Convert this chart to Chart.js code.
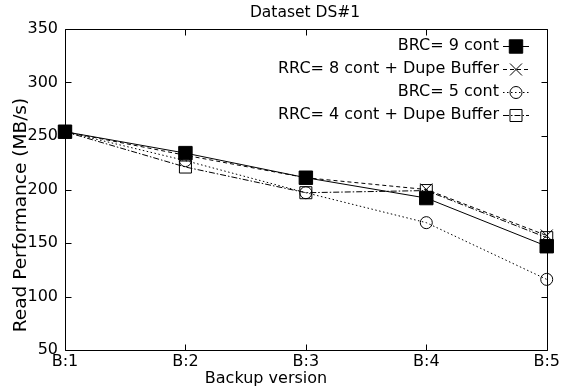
<!DOCTYPE html>
<html>
<head>
<meta charset="utf-8">
<script src="https://cdn.jsdelivr.net/npm/chart.js@4.4.0/dist/chart.umd.min.js"></script>
<style>
  html, body { margin: 0; padding: 0; background: #fff; }
</style>
</head>
<body>
<canvas id="readChart" width="562" height="391"></canvas>
<script>
// read throughput per backup version
const versions = ["B:1", "B:2", "B:3", "B:4", "B:5"];
const brc9 = [254, 234, 211, 192, 147];
const rrc8 = [254, 232, 211, 200, 157];
const brc5 = [254, 227, 197, 169, 116];
const rrc4 = [254, 221, 197, 199, 155];
const seriesNames = [
  "BRC= 9 cont",
  "RRC= 8 cont + Dupe Buffer",
  "BRC= 5 cont",
  "RRC= 4 cont + Dupe Buffer",
];
const yTicks = [50, 100, 150, 200, 250, 300, 350];

const FONT = "'DejaVu Sans', sans-serif";
Chart.defaults.font.family = FONT;
Chart.defaults.font.size = 16;
Chart.defaults.color = "#000";

function crisp(v) {
  return Math.round(v) + 0.5;
}

// gnuplot style marker for the key
function drawMarker(ctx, style, r, filled, x, y) {
  ctx.beginPath();
  if (style === "rect") {
    const s = r * Math.SQRT1_2;
    ctx.rect(x - s, y - s, 2 * s, 2 * s);
    if (filled) ctx.fill();
    ctx.stroke();
  } else if (style === "circle") {
    ctx.arc(x, y, r, 0, Math.PI * 2);
    ctx.stroke();
  } else if (style === "crossRot") {
    const s = r * Math.SQRT1_2;
    ctx.moveTo(x - s, y - s);
    ctx.lineTo(x + s, y + s);
    ctx.moveTo(x - s, y + s);
    ctx.lineTo(x + s, y - s);
    ctx.stroke();
  }
}

// box, mirrored inward ticks, titles and key
const framePlugin = {
  id: "frame",
  beforeDatasetsDraw(chart) {
    const { ctx, chartArea: a, scales } = chart;
    const l = crisp(a.left), r = crisp(a.right), t = crisp(a.top), b = crisp(a.bottom);
    ctx.save();
    ctx.strokeStyle = "#000";
    ctx.lineWidth = 1;
    ctx.beginPath();
    ctx.rect(l, t, r - l, b - t);
    yTicks.forEach((v) => {
      const py = crisp(scales.y.getPixelForValue(v));
      ctx.moveTo(l, py);
      ctx.lineTo(l + 6, py);
      ctx.moveTo(r, py);
      ctx.lineTo(r - 6, py);
    });
    versions.forEach((_, i) => {
      const px = crisp(scales.x.getPixelForValue(i));
      ctx.moveTo(px, b);
      ctx.lineTo(px, b - 6);
      ctx.moveTo(px, t);
      ctx.lineTo(px, t + 6);
    });
    ctx.stroke();
    ctx.restore();
  },
  afterDraw(chart) {
    const { ctx } = chart;
    ctx.save();
    ctx.fillStyle = "#000";
    ctx.textBaseline = "middle";

    ctx.font = "15.5px " + FONT;
    ctx.textAlign = "center";
    ctx.fillText("Dataset DS#1", 305, 13);

    ctx.font = "16px " + FONT;
    ctx.fillText("Backup version", 266, 379);

    ctx.save();
    ctx.translate(21, 215);
    ctx.rotate(-Math.PI / 2);
    ctx.font = "18.5px " + FONT;
    ctx.fillText("Read Performance (MB/s)", 0, 0);
    ctx.restore();

    // key, top right inside the box
    ctx.font = "16px " + FONT;
    ctx.textAlign = "right";
    chart.data.datasets.forEach((ds, i) => {
      const y = 46 + 23 * i;
      ctx.fillText(ds.label, 499, y);
      ctx.strokeStyle = "#000";
      ctx.fillStyle = "#000";
      ctx.lineWidth = 1;
      ctx.setLineDash(ds.borderDash || []);
      ctx.beginPath();
      ctx.moveTo(503, y + 0.5);
      ctx.lineTo(529, y + 0.5);
      ctx.stroke();
      ctx.setLineDash([]);
      drawMarker(ctx, ds.pointStyle, ds.pointRadius, ds.pointBackgroundColor === "#000", 516, y + 0.5);
    });
    ctx.restore();
  },
};

const ctx = document.getElementById("readChart").getContext("2d");
const readChart = new Chart(ctx, {
  type: "line",
  data: {
    labels: versions,
    datasets: [
      {
        label: seriesNames[0],
        data: brc9,
        borderColor: "#000",
        borderWidth: 1,
        pointStyle: "rect",
        pointRadius: 9.5,
        pointBackgroundColor: "#000",
        pointBorderColor: "#000",
        pointBorderWidth: 1,
      },
      {
        label: seriesNames[1],
        data: rrc8,
        borderColor: "#000",
        borderWidth: 1,
        borderDash: [4, 3],
        pointStyle: "crossRot",
        pointRadius: 8.5,
        pointBackgroundColor: "rgba(0,0,0,0)",
        pointBorderColor: "#000",
        pointBorderWidth: 1,
      },
      {
        label: seriesNames[2],
        data: brc5,
        borderColor: "#000",
        borderWidth: 1,
        borderDash: [1.5, 2.5],
        pointStyle: "circle",
        pointRadius: 6,
        pointBackgroundColor: "rgba(0,0,0,0)",
        pointBorderColor: "#000",
        pointBorderWidth: 1,
      },
      {
        label: seriesNames[3],
        data: rrc4,
        borderColor: "#000",
        borderWidth: 1,
        borderDash: [6, 2, 1.5, 2],
        pointStyle: "rect",
        pointRadius: 8.5,
        pointBackgroundColor: "rgba(0,0,0,0)",
        pointBorderColor: "#000",
        pointBorderWidth: 1,
      },
    ],
  },
  options: {
    responsive: false,
    animation: false,
    layout: { padding: { top: 29, right: 14, left: 0, bottom: 0 } },
    plugins: {
      legend: { display: false },
      title: { display: false },
      tooltip: { enabled: false },
    },
    elements: { line: { tension: 0 } },
    scales: {
      x: {
        type: "category",
        offset: false,
        grid: { display: false, tickLength: 0 },
        border: { display: false },
        ticks: { padding: 2, maxRotation: 0, autoSkip: false },
        afterFit: (s) => { s.height = 41; },
      },
      y: {
        min: 50,
        max: 350,
        grid: { display: false, tickLength: 0 },
        border: { display: false },
        ticks: { padding: 7 },
        afterBuildTicks: (s) => { s.ticks = yTicks.map((v) => ({ value: v })); },
        afterFit: (s) => { s.width = 65; },
      },
    },
  },
  plugins: [framePlugin],
});
</script>
</body>
</html>
